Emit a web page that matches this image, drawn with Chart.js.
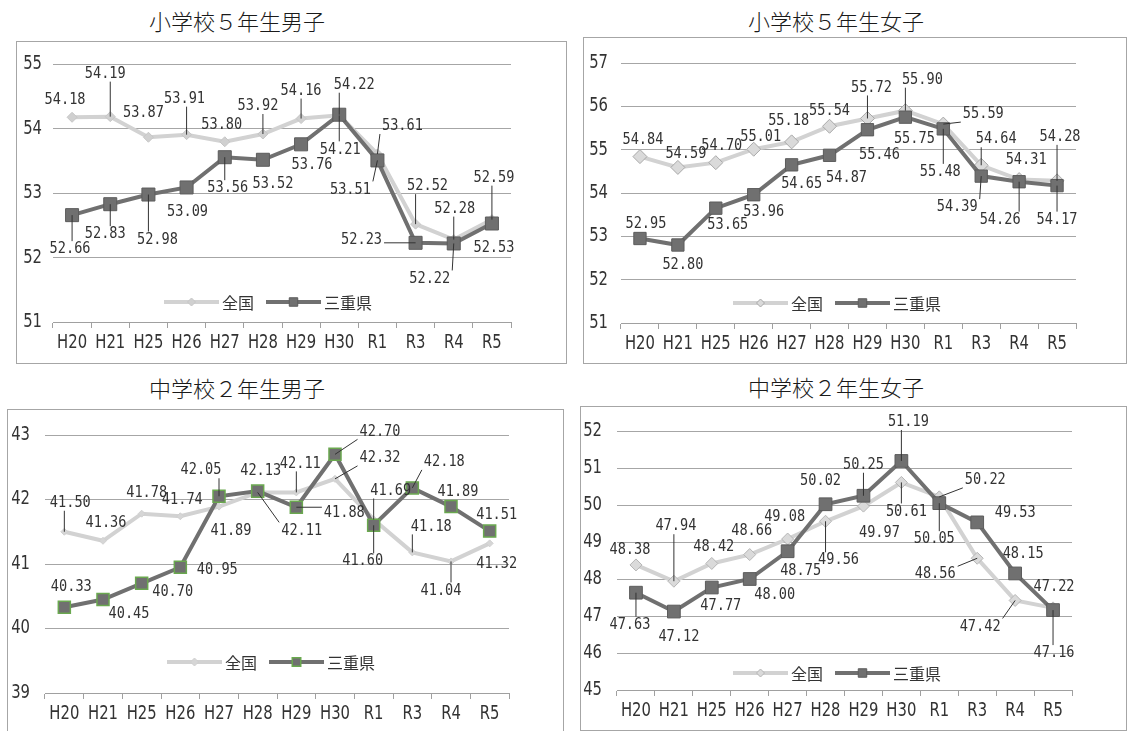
<!DOCTYPE html>
<html>
<head>
<meta charset="utf-8">
<script src="https://cdn.jsdelivr.net/npm/chart.js@4.4.0/dist/chart.umd.min.js"></script>
<style>
  body { margin: 0; width: 1129px; height: 731px; background: #fff; position: relative; overflow: hidden; font-family: "Noto Sans CJK JP", sans-serif; }
  .title { position: absolute; font-size: 22px; font-weight: 300; color: #1a1a1a; transform: translate(-50%, -50%); white-space: nowrap; }
  .box { position: absolute; box-sizing: border-box; border: 1px solid #a6a6a6; }
  .box canvas { position: absolute; left: 0; top: 0; }
</style>
</head>
<body>
<script>
// categories shared by all four charts
const categories = ['H20', 'H21', 'H25', 'H26', 'H27', 'H28', 'H29', 'H30', 'R1', 'R3', 'R4', 'R5'];

// 小学校５年生男子
const elemBoysNational = [54.18, 54.19, 53.87, 53.91, 53.80, 53.92, 54.16, 54.21, 53.61, 52.52, 52.28, 52.59];
const elemBoysMie      = [52.66, 52.83, 52.98, 53.09, 53.56, 53.52, 53.76, 54.22, 53.51, 52.23, 52.22, 52.53];
// 小学校５年生女子
const elemGirlsNational = [54.84, 54.59, 54.70, 55.01, 55.18, 55.54, 55.72, 55.90, 55.59, 54.64, 54.31, 54.28];
const elemGirlsMie      = [52.95, 52.80, 53.65, 53.96, 54.65, 54.87, 55.46, 55.75, 55.48, 54.39, 54.26, 54.17];
// 中学校２年生男子
const juniorBoysNational = [41.50, 41.36, 41.78, 41.74, 41.89, 42.11, 42.11, 42.32, 41.69, 41.18, 41.04, 41.32];
const juniorBoysMie      = [40.33, 40.45, 40.70, 40.95, 42.05, 42.13, 41.88, 42.70, 41.60, 42.18, 41.89, 41.51];
// 中学校２年生女子
const juniorGirlsNational = [48.38, 47.94, 48.42, 48.66, 49.08, 49.56, 49.97, 50.61, 50.22, 48.56, 47.42, 47.22];
const juniorGirlsMie      = [47.63, 47.12, 47.77, 48.00, 48.75, 50.02, 50.25, 51.19, 50.05, 49.53, 48.15, 47.16];

// y axis ranges
const elemBoysTicks = [51, 55];
const elemGirlsTicks = [51, 57];
const juniorBoysTicks = [39, 43];
const juniorGirlsTicks = [45, 52];

// label placement: [dx, dy, leader line]
const p1NatPos = [[-7,-17,0],[-5,-43,1],[-5,-24,0],[-2,-36,1],[-3,-17,0],[-5,-28,1],[0,-28,1],[1,34,1],[25,-28,1],[12,-38,1],[1,-31,1],[2,-42,1]];
const p1MiePos = [[-2,34,1],[-5,30,1],[9,45,1],[1,24,0],[3,31,1],[10,24,0],[11,21,0],[15,-30,1],[-27,29,1],[-54,-3,1],[-24,35,1],[2,24,0]];
const p2NatPos = [[3,-17,0],[8,-14,0],[6,-17,0],[7,-12,0],[-3,-21,0],[0,-15,0],[4,-31,1],[17,-31,1],[40,-10,1],[15,-26,1],[7,-20,0],[3,-44,1]];
const p2MiePos = [[6,-15,0],[5,20,0],[12,17,0],[10,17,0],[10,19,0],[17,23,0],[12,25,0],[9,22,0],[-3,43,1],[-24,31,1],[-19,38,1],[0,34,1]];
const p3NatPos = [[6,-29,1],[3,-18,0],[5,-21,0],[2,-16,0],[12,24,0],[44,38,1],[4,-29,1],[45,-21,1],[17,-29,1],[19,-26,1],[-10,29,1],[7,20,0]];
const p3MiePos = [[7,-20,0],[26,14,0],[31,8,0],[37,3,0],[-18,-26,1],[3,-20,0],[48,6,1],[45,-23,1],[-11,36,1],[32,-26,1],[7,-15,0],[7,-16,0]];
const p4NatPos = [[-6,-15,0],[2,-55,1],[2,-17,0],[2,-24,0],[-3,-22,0],[13,39,1],[16,27,0],[5,29,1],[46,-17,1],[-42,16,1],[-35,26,1],[1,-21,0]];
const p4MiePos = [[-6,32,1],[5,25,0],[9,18,0],[25,16,0],[13,20,0],[-5,-23,0],[0,-31,1],[7,-39,1],[-5,36,1],[38,-10,0],[8,-20,0],[1,43,1]];

const SX = 0.85; // condensed number labels
const TX = 0.78; // condensed axis labels

function squeezed(ctx, text, x, y, sx) {
  ctx.save();
  ctx.translate(x, y);
  ctx.scale(sx, 1);
  ctx.fillText(text, 0, 0);
  ctx.restore();
}

const valueLabels = {
  id: 'valueLabels',
  afterDatasetsDraw(chart, args, opts) {
    const ctx = chart.ctx;
    ctx.save();
    ctx.font = '16px "DejaVu Sans Mono", monospace';
    ctx.fillStyle = '#333';
    ctx.strokeStyle = '#333';
    ctx.lineWidth = 1;
    ctx.textAlign = 'center';
    ctx.textBaseline = 'middle';
    chart.data.datasets.forEach((ds, d) => {
      const pos = opts.positions[d];
      chart.getDatasetMeta(d).data.forEach((pt, i) => {
        const [dx, dy, lead] = pos[i];
        const text = ds.data[i].toFixed(2);
        const lx = pt.x + dx, ly = pt.y + dy;
        const w = ctx.measureText(text).width * SX;
        if (lead) {
          const hw = w / 2 + 2, hh = 8;
          const cx = Math.max(lx - hw, Math.min(pt.x, lx + hw));
          const cy = Math.max(ly - hh, Math.min(pt.y, ly + hh));
          ctx.beginPath();
          ctx.moveTo(pt.x, pt.y);
          ctx.lineTo(cx, cy);
          ctx.stroke();
        }
        squeezed(ctx, text, lx, ly, SX);
      });
    });
    ctx.restore();
  }
};

// axis labels drawn narrow, at the scales' own tick positions
const narrowTicks = {
  id: 'narrowTicks',
  afterDraw(chart, args, opts) {
    const ctx = chart.ctx;
    const xs = chart.scales.x, ys = chart.scales.y;
    ctx.save();
    ctx.font = '19px "DejaVu Sans", sans-serif';
    ctx.fillStyle = '#333';
    ctx.textBaseline = 'middle';
    ctx.textAlign = 'center';
    xs.ticks.forEach((t, i) => squeezed(ctx, xs.getLabelForValue(t.value), xs.getPixelForTick(i), xs.top + 21, TX));
    ctx.textAlign = 'right';
    ys.ticks.forEach((t, i) => squeezed(ctx, String(t.value), ys.right - opts.pad, ys.getPixelForTick(i), TX));
    ctx.restore();
  }
};

function marker(ctx, style, x, y, r) {
  ctx.beginPath();
  if (style === 'rect') {
    const s = r * Math.SQRT1_2;
    ctx.rect(x - s, y - s, 2 * s, 2 * s);
  } else {
    ctx.moveTo(x, y - r); ctx.lineTo(x + r, y); ctx.lineTo(x, y + r); ctx.lineTo(x - r, y); ctx.closePath();
  }
  ctx.fill();
  ctx.stroke();
}

const innerLegend = {
  id: 'innerLegend',
  afterDraw(chart, args, opts) {
    const ctx = chart.ctx;
    const a = chart.chartArea;
    let x = a.left + opts.x;
    const y = a.bottom - opts.dy;
    ctx.save();
    ctx.font = '16px "Noto Sans CJK JP", sans-serif';
    ctx.textBaseline = 'middle';
    chart.data.datasets.forEach(ds => {
      const L = 55;
      ctx.strokeStyle = ds.borderColor;
      ctx.lineWidth = ds.borderWidth;
      ctx.beginPath(); ctx.moveTo(x, y); ctx.lineTo(x + L, y); ctx.stroke();
      ctx.fillStyle = ds.pointBackgroundColor;
      ctx.strokeStyle = ds.pointBorderColor;
      ctx.lineWidth = ds.pointBorderWidth;
      marker(ctx, ds.pointStyle, x + L / 2, y, ds.pointStyle === 'rect' ? 6 : 4);
      ctx.fillStyle = '#333';
      ctx.fillText(ds.label, x + L + 3, y + 1);
      x += L + 3 + ctx.measureText(ds.label).width + 12;
    });
    ctx.restore();
  }
};

const panels = [
  { title: '小学校５年生男子', tx: 237, ty: 20, box: [16, 41, 551, 323], top: 22.5, right: 55, yW: 36, xH: 41, yPad: 11,
    legend: { x: 111, dy: 20 }, range: elemBoysTicks, nat: elemBoysNational, mie: elemBoysMie, pos: [p1NatPos, p1MiePos],
    natStyle: { r: 5, bg: '#d0d0d0', bd: '#c6c6c6', bw: 1 }, mieStyle: { r: 9.2, bg: '#707070', bd: '#5c5c5c', bw: 1 } },
  { title: '小学校５年生女子', tx: 836, ty: 20, box: [583, 37, 544, 327], top: 25, right: 50, yW: 37, xH: 40, yPad: 13,
    legend: { x: 112, dy: 20 }, range: elemGirlsTicks, nat: elemGirlsNational, mie: elemGirlsMie, pos: [p2NatPos, p2MiePos],
    natStyle: { r: 7, bg: '#dadada', bd: '#a8a8a8', bw: 1 }, mieStyle: { r: 8.7, bg: '#707070', bd: '#5c5c5c', bw: 1 } },
  { title: '中学校２年生男子', tx: 237, ty: 387, box: [7, 409, 557, 330], top: 25, right: 54, yW: 37, xH: 45, yPad: 15,
    legend: { x: 122, dy: 31 }, range: juniorBoysTicks, nat: juniorBoysNational, mie: juniorBoysMie, pos: [p3NatPos, p3MiePos],
    natStyle: { r: 3.5, bg: '#d6d6d6', bd: '#d0d0d0', bw: 1 }, mieStyle: { r: 8.5, bg: '#707070', bd: '#6aa84f', bw: 1.5 } },
  { title: '中学校２年生女子', tx: 836, ty: 386, box: [580, 406, 547, 325], top: 24, right: 54, yW: 36, xH: 40, yPad: 15,
    legend: { x: 116, dy: 17 }, range: juniorGirlsTicks, nat: juniorGirlsNational, mie: juniorGirlsMie, pos: [p4NatPos, p4MiePos],
    natStyle: { r: 6, bg: '#dadada', bd: '#b5b5b5', bw: 1 }, mieStyle: { r: 9, bg: '#707070', bd: '#5c5c5c', bw: 1 } }
];

const hidden = 'rgba(0,0,0,0)';

panels.forEach(p => {
  const t = document.createElement('div');
  t.className = 'title';
  t.textContent = p.title;
  t.style.left = p.tx + 'px';
  t.style.top = p.ty + 'px';
  document.body.appendChild(t);

  const box = document.createElement('div');
  box.className = 'box';
  const [bx, by, bw, bh] = p.box;
  Object.assign(box.style, { left: bx + 'px', top: by + 'px', width: bw + 'px', height: bh + 'px' });
  const cv = document.createElement('canvas');
  cv.width = bw - 2;
  cv.height = bh - 2;
  box.appendChild(cv);
  document.body.appendChild(box);

  new Chart(cv, {
    type: 'line',
    data: {
      labels: categories,
      datasets: [
        {
          label: '全国', data: p.nat, order: 1,
          borderColor: '#d2d2d2', borderWidth: 4, tension: 0,
          pointStyle: 'rectRot', pointRadius: p.natStyle.r,
          pointBackgroundColor: p.natStyle.bg, pointBorderColor: p.natStyle.bd, pointBorderWidth: p.natStyle.bw
        },
        {
          label: '三重県', data: p.mie, order: 0,
          borderColor: '#707070', borderWidth: 4, tension: 0,
          pointStyle: 'rect', pointRadius: p.mieStyle.r,
          pointBackgroundColor: p.mieStyle.bg, pointBorderColor: p.mieStyle.bd, pointBorderWidth: p.mieStyle.bw
        }
      ]
    },
    options: {
      responsive: false,
      animation: false,
      layout: { padding: { top: p.top, right: p.right, left: 0, bottom: 0 } },
      scales: {
        x: {
          offset: true,
          grid: { offset: true, drawOnChartArea: false, tickLength: 6, color: '#a0a0a0' },
          border: { color: '#a0a0a0' },
          ticks: { color: hidden, maxRotation: 0, autoSkip: false },
          afterFit(s) { s.height = p.xH; }
        },
        y: {
          min: p.range[0], max: p.range[1],
          grid: { color: '#a6a6a6', drawTicks: false },
          border: { display: false },
          ticks: { stepSize: 1, color: hidden },
          afterFit(s) { s.width = p.yW; }
        }
      },
      plugins: {
        legend: { display: false },
        tooltip: { enabled: false },
        valueLabels: { positions: p.pos },
        narrowTicks: { pad: p.yPad },
        innerLegend: p.legend
      }
    },
    plugins: [valueLabels, narrowTicks, innerLegend]
  });
});
</script>
</body>
</html>
